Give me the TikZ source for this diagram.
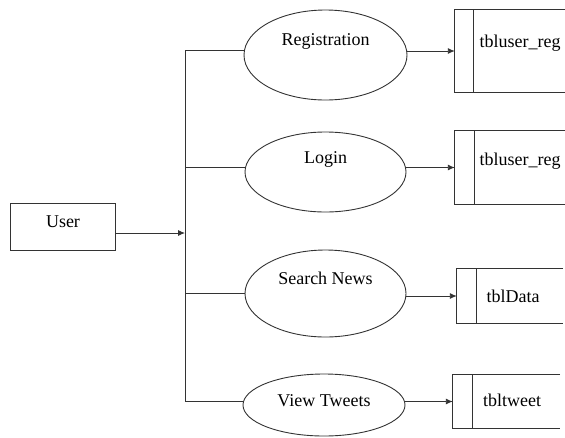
\documentclass[tikz,border=0pt]{standalone}
\usepackage{fontspec}
\setmainfont{Liberation Serif}
\usetikzlibrary{arrows.meta,shapes.geometric}
\begin{document}
\begin{tikzpicture}[x=1pt,y=-1pt,
  ln/.style={draw=black!80,line width=0.9pt},
  arr/.style={ln,-{Latex[length=7pt,width=6pt]}},
  proc/.style={ellipse,draw=black!80,line width=0.9pt,inner sep=0pt},
  lbl/.style={font=\fontsize{18}{21}\selectfont,inner sep=0pt},
  tbl/.style={draw=none,rectangle,inner sep=0pt}]
\useasboundingbox (0,0) rectangle (565,437);
% user
\node[draw=black!80,line width=0.9pt,minimum width=105pt,minimum height=47pt,inner sep=0pt] (user) at (62.5,226.5) {};
\node[lbl] (usertxt) at (63,222) {User};
% bus
\coordinate (b1) at (185,50);
\coordinate (b2) at (185,167);
\coordinate (bu) at (185,233);
\coordinate (b3) at (185,293);
\coordinate (b4) at (185,401);
\draw[ln] (b1) -- (b4);
\draw[arr] (user.east |- bu) -- (bu);
% processes
\node[proc,minimum width=163pt,minimum height=90pt] (reg) at (325.5,55) {};
\node[lbl] (regt) at (325.5,41) {Registration};
\node[proc,minimum width=161pt,minimum height=80pt] (login) at (325.5,172) {};
\node[lbl] (logint) at (325.5,159) {Login};
\node[proc,minimum width=161pt,minimum height=87pt] (search) at (325.5,293.5) {};
\node[lbl] (searcht) at (325.5,278) {Search News};
\node[proc,minimum width=162pt,minimum height=62pt] (view) at (324,405) {};
\node[lbl] (viewt) at (324,401) {View Tweets};
\draw[ln] (b1) -- (b1 -| reg.west);
\draw[ln] (b2) -- (b2 -| login.west);
\draw[ln] (b3) -- (b3 -| search.west);
\draw[ln] (b4) -- (b4 -| view.west);
% tables
\node[tbl,minimum width=110pt,minimum height=82pt] (t1) at (510,51) {};
\node[tbl,minimum width=110pt,minimum height=73pt] (t2) at (510,167.5) {};
\node[tbl,minimum width=106pt,minimum height=54pt] (t3) at (510,296) {};
\node[tbl,minimum width=107pt,minimum height=53pt] (t4) at (506.5,401.5) {};
\foreach \t/\w in {t1/19,t2/20,t3/20,t4/20}{
  \draw[ln] (\t.north east) -- (\t.north west) -- (\t.south west) -- (\t.south east);
  \draw[ln] ([xshift=\w pt]\t.north west) -- ([xshift=\w pt]\t.south west);
}
\node[lbl] (t1t) at (520,43) {tbluser\_reg};
\node[lbl] (t2t) at (520,161) {tbluser\_reg};
\node[lbl] (t3t) at (513,296) {tblData};
\node[lbl] (t4t) at (512,400) {tbltweet};
% arrows to tables
\draw[arr] (reg.east |- t1.west) -- (t1.west);
\draw[arr] (login.east |- t2.west) -- (t2.west);
\draw[arr] (search.east |- t3.west) -- (t3.west);
\draw[arr] (view.east |- t4.west) -- (t4.west);
\end{tikzpicture}
\end{document}
